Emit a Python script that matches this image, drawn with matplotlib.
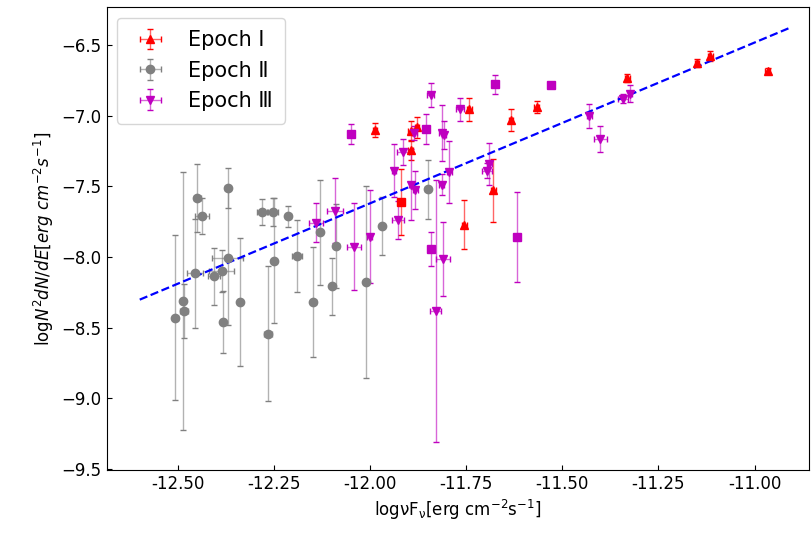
import matplotlib
matplotlib.use('Agg')
import matplotlib.pyplot as plt
import numpy as np

# ---------------- data ----------------
# Epoch I (red, triangle up)
e1_x = [-10.966, -11.115, -11.150, -11.331, -11.567, -11.634, -11.680, -11.742, -11.755,
        -11.988, -11.895, -11.878, -11.895]
e1_y = [-6.683, -6.573, -6.624, -6.730, -6.937, -7.028, -7.528, -6.953, -7.770,
        -7.099, -7.106, -7.082, -7.240]
e1_yerr = [0.02, 0.035, 0.03, 0.03, 0.045, 0.08, 0.225, 0.08, 0.176,
           0.05, 0.07, 0.074, 0.07]
e1_xerr = [0.006, 0.006, 0.006, 0.006, 0.006, 0.006, 0.006, 0.006, 0.006,
           0.006, 0.006, 0.006, 0.006]
# Epoch I squares
e1s_x = [-11.920]
e1s_y = [-7.610]
e1s_yerr = [0.232]
e1s_xerr = [0.006]

# Epoch II (gray, circle)
e2_x = [-12.507, -12.487, -12.484, -12.456, -12.450, -12.439, -12.407, -12.387, -12.383,
        -12.371, -12.371, -12.339, -12.267, -12.281, -12.254, -12.251, -12.213, -12.192,
        -12.148, -12.131, -12.099, -12.088, -12.011, -11.970, -11.851]
e2_y = [-8.432, -8.310, -8.385, -8.115, -7.582, -7.711, -8.138, -8.098, -8.462,
        -7.511, -8.004, -8.319, -8.544, -7.680, -7.680, -8.025, -7.711, -7.993,
        -8.319, -7.826, -8.209, -7.923, -8.180, -7.779, -7.521]
e2_yerr = [0.585, 0.915, 0.19, 0.385, 0.24, 0.126, 0.20, 0.15, 0.22,
           0.14, 0.48, 0.455, 0.48, 0.09, 0.10, 0.44, 0.074, 0.254,
           0.39, 0.375, 0.20, 0.30, 0.68, 0.205, 0.21]
e2_xerr = [0.006, 0.006, 0.010, 0.020, 0.010, 0.018, 0.015, 0.033, 0.006,
           0.006, 0.041, 0.006, 0.010, 0.013, 0.013, 0.006, 0.006, 0.013,
           0.006, 0.006, 0.006, 0.006, 0.006, 0.006, 0.006]

# Epoch III (magenta, triangle down)
e3_x = [-11.430, -11.402, -11.343, -11.324, -11.690, -11.695, -11.843, -11.766, -11.885,
        -11.814, -11.808, -11.914, -11.938, -11.894, -11.883, -11.814, -11.830, -11.794,
        -11.927, -11.810, -12.002, -12.042, -12.092, -12.142]
e3_y = [-7.000, -7.164, -6.878, -6.842, -7.340, -7.387, -6.852, -6.953, -7.122,
        -7.122, -7.136, -7.253, -7.387, -7.488, -7.528, -7.488, -8.385, -7.399,
        -7.739, -8.014, -7.856, -7.927, -7.673, -7.756]
e3_yerr = [0.088, 0.094, 0.03, 0.06, 0.15, 0.05, 0.085, 0.082, 0.05,
           0.20, 0.10, 0.092, 0.185, 0.25, 0.135, 0.074, 0.93, 0.22,
           0.135, 0.264, 0.33, 0.31, 0.23, 0.137]
e3_xerr = [0.006, 0.017, 0.013, 0.006, 0.006, 0.013, 0.010, 0.010, 0.006,
           0.006, 0.006, 0.016, 0.006, 0.006, 0.006, 0.006, 0.015, 0.006,
           0.016, 0.018, 0.006, 0.018, 0.020, 0.018]
# Epoch III squares
e3s_x = [-11.675, -11.530, -12.051, -11.855, -11.843, -11.619]
e3s_y = [-6.777, -6.784, -7.129, -7.094, -7.944, -7.856]
e3s_yerr = [0.07, 0.02, 0.072, 0.106, 0.123, 0.32]
e3s_xerr = [0.006, 0.006, 0.006, 0.006, 0.006, 0.006]

# fitted line
fit_x = [-12.60, -10.91]
fit_slope = 1.139
fit_intercept = 6.049

labels = ['Epoch Ⅰ', 'Epoch Ⅱ', 'Epoch Ⅲ']

# ---------------- plot ----------------
fig = plt.figure(figsize=(8.12, 5.37), dpi=100)
ax = fig.add_axes([0.1314, 0.1248, 0.865, 0.8616])


def draw(x, y, yerr, xerr, color, marker, ms, label=None):
    c = ax.errorbar(x, y, yerr=yerr, xerr=xerr, fmt=marker, color=color, ms=ms,
                    capsize=2.5, elinewidth=1.0, capthick=1.0, label=label)
    for b in c[2]:
        b.set_alpha(0.6)
    return c


draw(e1_x, e1_y, e1_yerr, e1_xerr, 'red', '^', 6, labels[0])
draw(e1s_x, e1s_y, e1s_yerr, e1s_xerr, 'red', 's', 5.5)
draw(e2_x, e2_y, e2_yerr, e2_xerr, 'gray', 'o', 6, labels[1])
draw(e3_x, e3_y, e3_yerr, e3_xerr, 'm', 'v', 6, labels[2])
draw(e3s_x, e3s_y, e3s_yerr, e3s_xerr, 'm', 's', 5.5)

fx = np.array(fit_x)
ax.plot(fx, fit_slope * fx + fit_intercept, '--', color='blue', lw=1.6)

ax.set_xlim(-12.686, -10.858)
ax.set_ylim(-9.51, -6.23)
ax.set_xticks(np.arange(-12.5, -10.99, 0.25))
ax.set_xticklabels(['%.2f' % v for v in np.arange(-12.5, -10.99, 0.25)])
ax.set_yticks(np.arange(-9.5, -6.49, 0.5))
ax.tick_params(direction='in', labelsize=12, top=False, right=False)

ax.set_xlabel(r'log$\mathrm{\nu F_{\nu}}$[erg cm$^{-2}$s$^{-1}$]', fontsize=12)
ax.set_ylabel(r'log$N^2dN/dE$[$erg\ cm^{-2}s^{-1}$]', fontsize=12)

ax.legend(loc='upper left', fontsize=15, borderpad=0.6)

fig.savefig('out.png', dpi=100)
